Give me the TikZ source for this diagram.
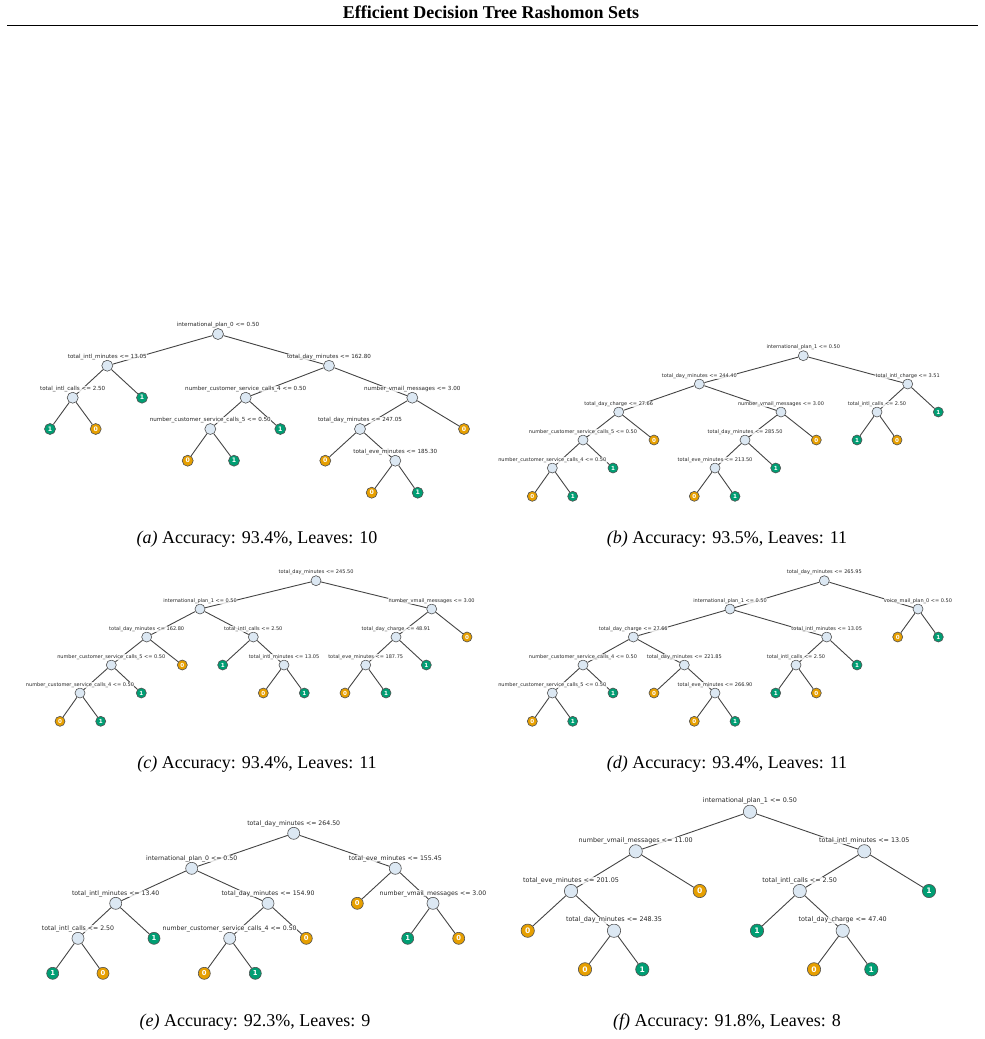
\documentclass[tikz,border=0pt]{standalone}
\usepackage{fontspec}
\setmainfont{Liberation Serif}
\newfontfamily\treefont{DejaVu Sans}
\usetikzlibrary{backgrounds}

\definecolor{splitfill}{HTML}{DCE8F3}
\definecolor{nodeline}{HTML}{505050}
\definecolor{edgecol}{HTML}{444444}
\definecolor{leafzero}{HTML}{E69F00}
\definecolor{leafone}{HTML}{009E73}

% sizes, changed per tree below
\def\nodesz{10pt}\def\lblsz{5pt}\def\leafsz{5pt}\def\lbldist{1.2pt}

\begin{document}
\begin{tikzpicture}[
  x=1pt, y=-1pt,
  lbl/.style={font=\treefont\fontsize{\lblsz}{\lblsz}\selectfont, text=black!85,
    fill=white, fill opacity=0.8, text opacity=1, inner sep=0.3pt},
  split/.style={circle, draw=nodeline, fill=splitfill, line width=0.6pt, inner sep=0pt,
    minimum size=\nodesz, label distance=\lbldist, label={[lbl]above:{#1}}},
  leaf/.style={circle, draw=nodeline, line width=0.6pt, inner sep=0pt, minimum size=\nodesz,
    text=white, font=\treefont\bfseries\fontsize{\leafsz}{\leafsz}\selectfont},
  leaf0/.style={leaf, fill=leafzero},
  leaf1/.style={leaf, fill=leafone},
  branch/.style={draw=edgecol, line width=0.9pt},
  caption/.style={font=\fontsize{18pt}{20pt}\selectfont}
]
\useasboundingbox (0,0) rectangle (985,1039);

% header
\node[font=\bfseries\fontsize{18pt}{20pt}\selectfont] (title) at (491,12.5) {Efficient Decision Tree Rashomon Sets};
\draw[line width=1.8pt] (7,25.5) -- (978,25.5);

% (a)
\begin{scope}
\def\nodesz{11pt}\def\lblsz{5.6pt}\def\leafsz{6.2pt}\def\lbldist{2.2pt}
\node[split={international\_plan\_0 <= 0.50}] (a0) at (218,334) {};
\node[split={total\_intl\_minutes <= 13.05}] (a1) at (107.3,365.7) {};
\node[split={total\_day\_minutes <= 162.80}] (a2) at (329,365.7) {};
\node[split={total\_intl\_calls <= 2.50}] (a3) at (72.7,397.7) {};
\node[leaf1] (a4) at (142,397.7) {1};
\node[split={number\_customer\_service\_calls\_4 <= 0.50}] (a5) at (245.7,397.7) {};
\node[split={number\_vmail\_messages <= 3.00}] (a6) at (412.3,397.7) {};
\node[leaf1] (a7) at (50,429) {1};
\node[leaf0] (a8) at (95.7,429) {0};
\node[split={number\_customer\_service\_calls\_5 <= 0.50}] (a9) at (210.3,429) {};
\node[leaf1] (a10) at (280.3,429) {1};
\node[split={total\_day\_minutes <= 247.05}] (a11) at (360,429) {};
\node[leaf0] (a12) at (464,429) {0};
\node[leaf0] (a13) at (187.7,460.7) {0};
\node[leaf1] (a14) at (234,460.7) {1};
\node[leaf0] (a15) at (325.3,460.7) {0};
\node[split={total\_eve\_minutes <= 185.30}] (a16) at (395.3,460.7) {};
\node[leaf0] (a17) at (371.7,492.7) {0};
\node[leaf1] (a18) at (417.7,492.7) {1};
\begin{scope}[on background layer]
\draw[branch] (a0) -- (a1) (a0) -- (a2);
\draw[branch] (a1) -- (a3) (a1) -- (a4);
\draw[branch] (a3) -- (a7) (a3) -- (a8);
\draw[branch] (a2) -- (a5) (a2) -- (a6);
\draw[branch] (a5) -- (a9) (a5) -- (a10);
\draw[branch] (a9) -- (a13) (a9) -- (a14);
\draw[branch] (a6) -- (a11) (a6) -- (a12);
\draw[branch] (a11) -- (a15) (a11) -- (a16);
\draw[branch] (a16) -- (a17) (a16) -- (a18);
\end{scope}
\end{scope}
\node[caption] (capa) at (257,539) {\textit{(a)} Accuracy: 93.4\%, Leaves: 10};

% (b)
\begin{scope}
\def\nodesz{10pt}\def\lblsz{5pt}\def\leafsz{5.6pt}\def\lbldist{1.2pt}
\node[split={international\_plan\_1 <= 0.50}] (b0) at (803.3,355.7) {};
\node[split={total\_day\_minutes <= 244.40}] (b1) at (699.3,384) {};
\node[split={total\_intl\_charge <= 3.51}] (b2) at (907.7,384) {};
\node[split={total\_day\_charge <= 27.66}] (b3) at (618.7,412) {};
\node[split={number\_vmail\_messages <= 3.00}] (b4) at (781,412) {};
\node[split={total\_intl\_calls <= 2.50}] (b5) at (877,412) {};
\node[leaf1] (b6) at (938.3,412) {1};
\node[split={number\_customer\_service\_calls\_5 <= 0.50}] (b7) at (583,440) {};
\node[leaf0] (b8) at (654,440) {0};
\node[split={total\_day\_minutes <= 285.50}] (b9) at (745,440) {};
\node[leaf0] (b10) at (816.3,440) {0};
\node[leaf1] (b11) at (857,440) {1};
\node[leaf0] (b12) at (897,440) {0};
\node[split={number\_customer\_service\_calls\_4 <= 0.50}] (b13) at (552.3,468) {};
\node[leaf1] (b14) at (613,468) {1};
\node[split={total\_eve\_minutes <= 213.50}] (b15) at (715,468) {};
\node[leaf1] (b16) at (775.7,468) {1};
\node[leaf0] (b17) at (532.3,496.3) {0};
\node[leaf1] (b18) at (572.7,496.3) {1};
\node[leaf0] (b19) at (694.3,496.3) {0};
\node[leaf1] (b20) at (735,496.3) {1};
\begin{scope}[on background layer]
\draw[branch] (b0) -- (b1) (b0) -- (b2);
\draw[branch] (b1) -- (b3) (b1) -- (b4);
\draw[branch] (b2) -- (b5) (b2) -- (b6);
\draw[branch] (b3) -- (b7) (b3) -- (b8);
\draw[branch] (b4) -- (b9) (b4) -- (b10);
\draw[branch] (b5) -- (b11) (b5) -- (b12);
\draw[branch] (b7) -- (b13) (b7) -- (b14);
\draw[branch] (b9) -- (b15) (b9) -- (b16);
\draw[branch] (b13) -- (b17) (b13) -- (b18);
\draw[branch] (b15) -- (b19) (b15) -- (b20);
\end{scope}
\end{scope}
\node[caption] (capb) at (727,539) {\textit{(b)} Accuracy: 93.5\%, Leaves: 11};

% (c)
\begin{scope}
\def\nodesz{10pt}\def\lblsz{5pt}\def\leafsz{5.6pt}\def\lbldist{1.2pt}
\node[split={total\_day\_minutes <= 245.50}] (c0) at (316,580.7) {};
\node[split={international\_plan\_1 <= 0.50}] (c1) at (200,609) {};
\node[split={number\_vmail\_messages <= 3.00}] (c2) at (431.7,609) {};
\node[split={total\_day\_minutes <= 162.80}] (c3) at (146.7,637) {};
\node[split={total\_intl\_calls <= 2.50}] (c4) at (253.3,637) {};
\node[split={total\_day\_charge <= 48.91}] (c5) at (396,637) {};
\node[leaf0] (c6) at (467,637) {0};
\node[split={number\_customer\_service\_calls\_5 <= 0.50}] (c7) at (111.3,665) {};
\node[leaf0] (c8) at (182.3,665) {0};
\node[leaf1] (c9) at (222.7,665) {1};
\node[split={total\_intl\_minutes <= 13.05}] (c10) at (284,665) {};
\node[split={total\_eve\_minutes <= 187.75}] (c11) at (365.7,665) {};
\node[leaf1] (c12) at (426.3,665) {1};
\node[split={number\_customer\_service\_calls\_4 <= 0.50}] (c13) at (80,693) {};
\node[leaf1] (c14) at (141.3,693) {1};
\node[leaf0] (c15) at (263.3,693) {0};
\node[leaf1] (c16) at (304.3,693) {1};
\node[leaf0] (c17) at (345,693) {0};
\node[leaf1] (c18) at (386,693) {1};
\node[leaf0] (c19) at (60,721.3) {0};
\node[leaf1] (c20) at (100.7,721.3) {1};
\begin{scope}[on background layer]
\draw[branch] (c0) -- (c1) (c0) -- (c2);
\draw[branch] (c1) -- (c3) (c1) -- (c4);
\draw[branch] (c2) -- (c5) (c2) -- (c6);
\draw[branch] (c3) -- (c7) (c3) -- (c8);
\draw[branch] (c4) -- (c9) (c4) -- (c10);
\draw[branch] (c5) -- (c11) (c5) -- (c12);
\draw[branch] (c7) -- (c13) (c7) -- (c14);
\draw[branch] (c10) -- (c15) (c10) -- (c16);
\draw[branch] (c11) -- (c17) (c11) -- (c18);
\draw[branch] (c13) -- (c19) (c13) -- (c20);
\end{scope}
\end{scope}
\node[caption] (capc) at (257,764) {\textit{(c)} Accuracy: 93.4\%, Leaves: 11};

% (d)
\begin{scope}
\def\nodesz{10pt}\def\lblsz{5pt}\def\leafsz{5.6pt}\def\lbldist{1.2pt}
\node[split={total\_day\_minutes <= 265.95}] (d0) at (824.3,580.7) {};
\node[split={international\_plan\_1 <= 0.50}] (d1) at (730,609) {};
\node[split={voice\_mail\_plan\_0 <= 0.50}] (d2) at (918,609) {};
\node[split={total\_day\_charge <= 27.66}] (d3) at (633.3,637) {};
\node[split={total\_intl\_minutes <= 13.05}] (d4) at (826.7,637) {};
\node[leaf0] (d5) at (897.7,637) {0};
\node[leaf1] (d6) at (938.3,637) {1};
\node[split={number\_customer\_service\_calls\_4 <= 0.50}] (d7) at (583,665) {};
\node[split={total\_day\_minutes <= 221.85}] (d8) at (684.3,665) {};
\node[split={total\_intl\_calls <= 2.50}] (d9) at (796,665) {};
\node[leaf1] (d10) at (857,665) {1};
\node[split={number\_customer\_service\_calls\_5 <= 0.50}] (d11) at (552.3,693) {};
\node[leaf1] (d12) at (613,693) {1};
\node[leaf0] (d13) at (654,693) {0};
\node[split={total\_eve\_minutes <= 266.90}] (d14) at (715,693) {};
\node[leaf1] (d15) at (775.7,693) {1};
\node[leaf0] (d16) at (816.3,693) {0};
\node[leaf0] (d17) at (532.3,721.3) {0};
\node[leaf1] (d18) at (572.7,721.3) {1};
\node[leaf0] (d19) at (694.3,721.3) {0};
\node[leaf1] (d20) at (735,721.3) {1};
\begin{scope}[on background layer]
\draw[branch] (d0) -- (d1) (d0) -- (d2);
\draw[branch] (d1) -- (d3) (d1) -- (d4);
\draw[branch] (d2) -- (d5) (d2) -- (d6);
\draw[branch] (d3) -- (d7) (d3) -- (d8);
\draw[branch] (d4) -- (d9) (d4) -- (d10);
\draw[branch] (d7) -- (d11) (d7) -- (d12);
\draw[branch] (d8) -- (d13) (d8) -- (d14);
\draw[branch] (d9) -- (d15) (d9) -- (d16);
\draw[branch] (d11) -- (d17) (d11) -- (d18);
\draw[branch] (d14) -- (d19) (d14) -- (d20);
\end{scope}
\end{scope}
\node[caption] (capd) at (727,764) {\textit{(d)} Accuracy: 93.4\%, Leaves: 11};

% (e)
\begin{scope}
\def\nodesz{12pt}\def\lblsz{6.2pt}\def\leafsz{6.8pt}\def\lbldist{1.9pt}
\node[split={total\_day\_minutes <= 264.50}] (e0) at (293.7,833.3) {};
\node[split={international\_plan\_0 <= 0.50}] (e1) at (191.7,868.3) {};
\node[split={total\_eve\_minutes <= 155.45}] (e2) at (395.3,868.3) {};
\node[split={total\_intl\_minutes <= 13.40}] (e3) at (115.7,903.3) {};
\node[split={total\_day\_minutes <= 154.90}] (e4) at (268,903.3) {};
\node[leaf0] (e5) at (357.3,903.3) {0};
\node[split={number\_vmail\_messages <= 3.00}] (e6) at (433,903.3) {};
\node[split={total\_intl\_calls <= 2.50}] (e7) at (78,938.3) {};
\node[leaf1] (e8) at (154,938.3) {1};
\node[split={number\_customer\_service\_calls\_4 <= 0.50}] (e9) at (229.7,938.3) {};
\node[leaf0] (e10) at (306.3,938.3) {0};
\node[leaf1] (e11) at (407.7,938.3) {1};
\node[leaf0] (e12) at (458.7,938.3) {0};
\node[leaf1] (e13) at (52.7,973.3) {1};
\node[leaf0] (e14) at (103,973.3) {0};
\node[leaf0] (e15) at (204.3,973.3) {0};
\node[leaf1] (e16) at (255.3,973.3) {1};
\begin{scope}[on background layer]
\draw[branch] (e0) -- (e1) (e0) -- (e2);
\draw[branch] (e1) -- (e3) (e1) -- (e4);
\draw[branch] (e2) -- (e5) (e2) -- (e6);
\draw[branch] (e3) -- (e7) (e3) -- (e8);
\draw[branch] (e4) -- (e9) (e4) -- (e10);
\draw[branch] (e6) -- (e11) (e6) -- (e12);
\draw[branch] (e7) -- (e13) (e7) -- (e14);
\draw[branch] (e9) -- (e15) (e9) -- (e16);
\end{scope}
\end{scope}
\node[caption] (cape) at (255,1022) {\textit{(e)} Accuracy: 92.3\%, Leaves: 9};

% (f)
\begin{scope}
\def\nodesz{13.3pt}\def\lblsz{6.4pt}\def\leafsz{7.6pt}\def\lbldist{2.1pt}
\node[split={international\_plan\_1 <= 0.50}] (f0) at (750,811.7) {};
\node[split={number\_vmail\_messages <= 11.00}] (f1) at (635.7,851.3) {};
\node[split={total\_intl\_minutes <= 13.05}] (f2) at (864.3,851.3) {};
\node[split={total\_eve\_minutes <= 201.05}] (f3) at (571,891) {};
\node[leaf0] (f4) at (699.7,891) {0};
\node[split={total\_intl\_calls <= 2.50}] (f5) at (799.7,891) {};
\node[leaf1] (f6) at (929,891) {1};
\node[leaf0] (f7) at (527.7,930.7) {0};
\node[split={total\_day\_minutes <= 248.35}] (f8) at (614,930.7) {};
\node[leaf1] (f9) at (757,930.7) {1};
\node[split={total\_day\_charge <= 47.40}] (f10) at (842.7,930.7) {};
\node[leaf0] (f11) at (585,969.3) {0};
\node[leaf1] (f12) at (642.3,969.3) {1};
\node[leaf0] (f13) at (814,969.3) {0};
\node[leaf1] (f14) at (871.3,969.3) {1};
\begin{scope}[on background layer]
\draw[branch] (f0) -- (f1) (f0) -- (f2);
\draw[branch] (f1) -- (f3) (f1) -- (f4);
\draw[branch] (f2) -- (f5) (f2) -- (f6);
\draw[branch] (f3) -- (f7) (f3) -- (f8);
\draw[branch] (f5) -- (f9) (f5) -- (f10);
\draw[branch] (f8) -- (f11) (f8) -- (f12);
\draw[branch] (f10) -- (f13) (f10) -- (f14);
\end{scope}
\end{scope}
\node[caption] (capf) at (727,1022) {\textit{(f)} Accuracy: 91.8\%, Leaves: 8};

\end{tikzpicture}
\end{document}
